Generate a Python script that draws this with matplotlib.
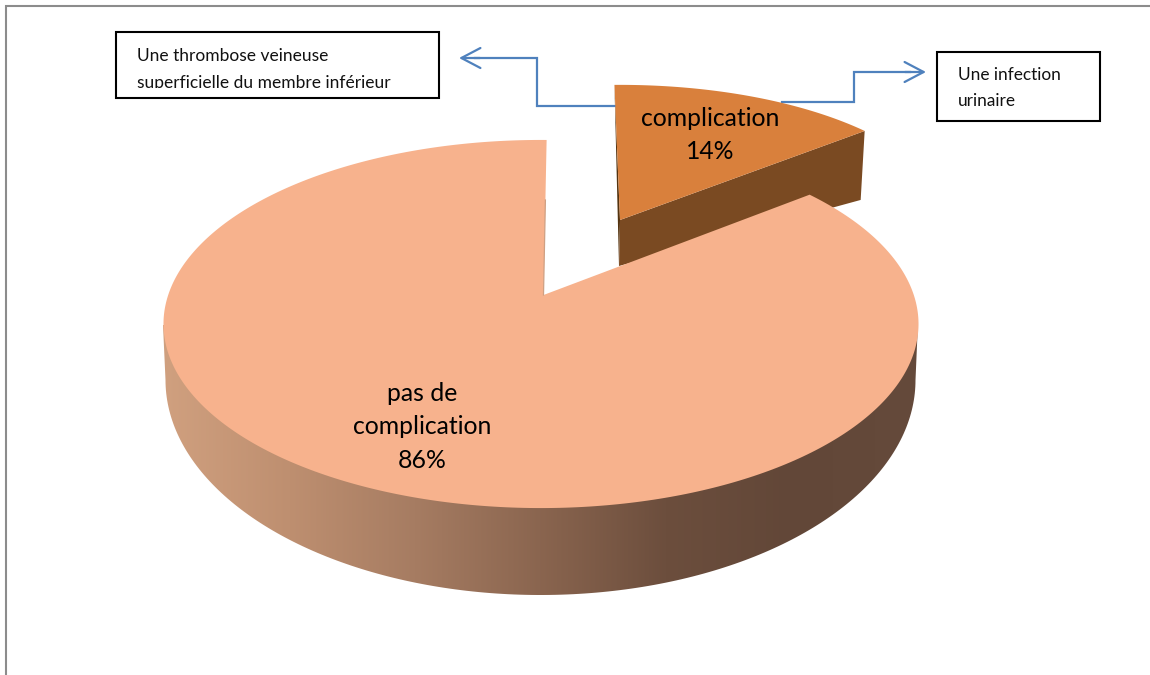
import numpy as np
import matplotlib
matplotlib.use('Agg')
import matplotlib.pyplot as plt
from matplotlib.patches import Polygon, Rectangle
from matplotlib.colors import LinearSegmentedColormap

## data
labels = ['complication', 'pas de\ncomplication']
values = [14, 86]
callouts = ['Une thrombose veineuse\nsuperficielle du membre inférieur', 'Une infection\nurinaire']

## colours
top_colors = ['#D9803C', '#F7B28D']
side_color = '#7A4A22'
edge_color = '#4F81BD'
wall_colors = ['#D0A07F', '#BE8F70', '#A67C62', '#8A654F', '#6C4E3D', '#624738', '#654A3B']

plt.rcParams['font.family'] = ['Lato', 'DejaVu Sans']


def project(theta, ox, oy, a, k, c):
    # circle seen in perspective, theta in degrees clockwise from the top
    u = np.sin(np.radians(theta))
    v = np.cos(np.radians(theta))
    d = 1 + c * v
    return ox + a * u / d, (oy - k * v) / d


fig = plt.figure(figsize=(11.5, 6.75), dpi=100)
ax = fig.add_axes([0, 0, 1, 1])
ax.set_xlim(0, 1150)
ax.set_ylim(675, 0)
ax.axis('off')

# page frame
ax.plot([6, 6, 1150], [675, 6, 6], color='#8C8C8C', lw=1.5, solid_joinstyle='miter')

sweep = 360.0 * values[0] / sum(values)

## detached slice
th = np.linspace(-1, -1 + sweep, 80)
x, y = project(th, 620, 220, 330, 132, 0.037)
ax.add_patch(Polygon([(x[0], y[0]), (620, 220), (619, 266)], fc='#54330F', ec='none', zorder=2))
ax.add_patch(Polygon([(620, 220), (x[-1], y[-1]), (x[-1] - 4, y[-1] + 69), (619, 266)],
                     fc=side_color, ec='none', zorder=2))
ax.add_patch(Polygon(np.column_stack([np.r_[x, 620], np.r_[y, 220]]), fc=top_colors[0], ec='none', zorder=3))

## outer wall of the big slice, horizontal gradient
th = np.linspace(90, 270, 200)
wx = 540.5 + 375 * np.sin(np.radians(th))
wy = 380 - 215 * np.cos(np.radians(th))
wall = Polygon(np.column_stack([np.r_[wx, 163, 918], np.r_[wy, 325, 322]]), fc='none', ec='none',
               transform=ax.transData)
ax.add_patch(wall)
cmap = LinearSegmentedColormap.from_list('wall', wall_colors)
grad = ax.imshow(np.linspace(0, 1, 256)[None, :], cmap=cmap, extent=[163, 918, 600, 300],
                 aspect='auto', interpolation='bilinear', zorder=4)
grad.set_clip_path(wall)
ax.set_xlim(0, 1150)
ax.set_ylim(675, 0)

## big slice
th = np.linspace(1.8 + sweep, 361, 400)
x, y = project(th, 541, 295, 372.8, 133, 0.1576)
ax.add_patch(Polygon(np.column_stack([np.r_[x, 543.5], np.r_[y, 295]]), fc=top_colors[1], ec='none', zorder=5))
ax.plot([545.4, 543.5], [200, 295], color='#CFA083', lw=0.9, zorder=6)

## labels
ax.text(710, 135, labels[0] + '\n%d%%' % values[0], ha='center', va='center', fontsize=17.8,
        linespacing=1.57, color='black', zorder=8)
ax.text(422, 427, labels[1] + '\n%d%%' % values[1], ha='center', va='center', fontsize=17.8,
        linespacing=1.57, color='black', zorder=8)

## connectors
ax.plot([615, 537, 537, 475], [106, 106, 58, 58], color=edge_color, lw=1.6, zorder=2,
        solid_joinstyle='miter')
ax.annotate('', xy=(459, 58), xytext=(480, 58), zorder=2,
            arrowprops=dict(arrowstyle='->,head_length=1.37,head_width=0.72', color=edge_color, lw=1.6,
                            shrinkA=0, shrinkB=0, mutation_scale=10))
ax.plot([782, 854, 854, 910], [102, 102, 72, 72], color=edge_color, lw=1.6, zorder=2,
        solid_joinstyle='miter')
ax.annotate('', xy=(926, 72), xytext=(905, 72), zorder=2,
            arrowprops=dict(arrowstyle='->,head_length=1.37,head_width=0.72', color=edge_color, lw=1.6,
                            shrinkA=0, shrinkB=0, mutation_scale=10))

## callout boxes
ax.add_patch(Rectangle((116, 32), 323, 66, fc='white', ec='black', lw=1.5, zorder=7))
ax.add_patch(Rectangle((937, 52), 163, 69, fc='white', ec='black', lw=1.5, zorder=7))

line1, line2 = callouts[0].split('\n')
ax.text(137, 61, line1, fontsize=12.5, va='baseline', color='#111111', zorder=8)
t = ax.text(137, 88, line2, fontsize=12.5, va='baseline', color='#111111', zorder=8)
t.set_clip_path(Rectangle((116, 32), 323, 55.5, transform=ax.transData))
t.set_clip_on(True)
line1, line2 = callouts[1].split('\n')
ax.text(958, 80, line1, fontsize=12.4, va='baseline', color='#111111', zorder=8)
ax.text(958, 106, line2, fontsize=12.4, va='baseline', color='#111111', zorder=8)

plt.savefig('out.png', dpi=100)
